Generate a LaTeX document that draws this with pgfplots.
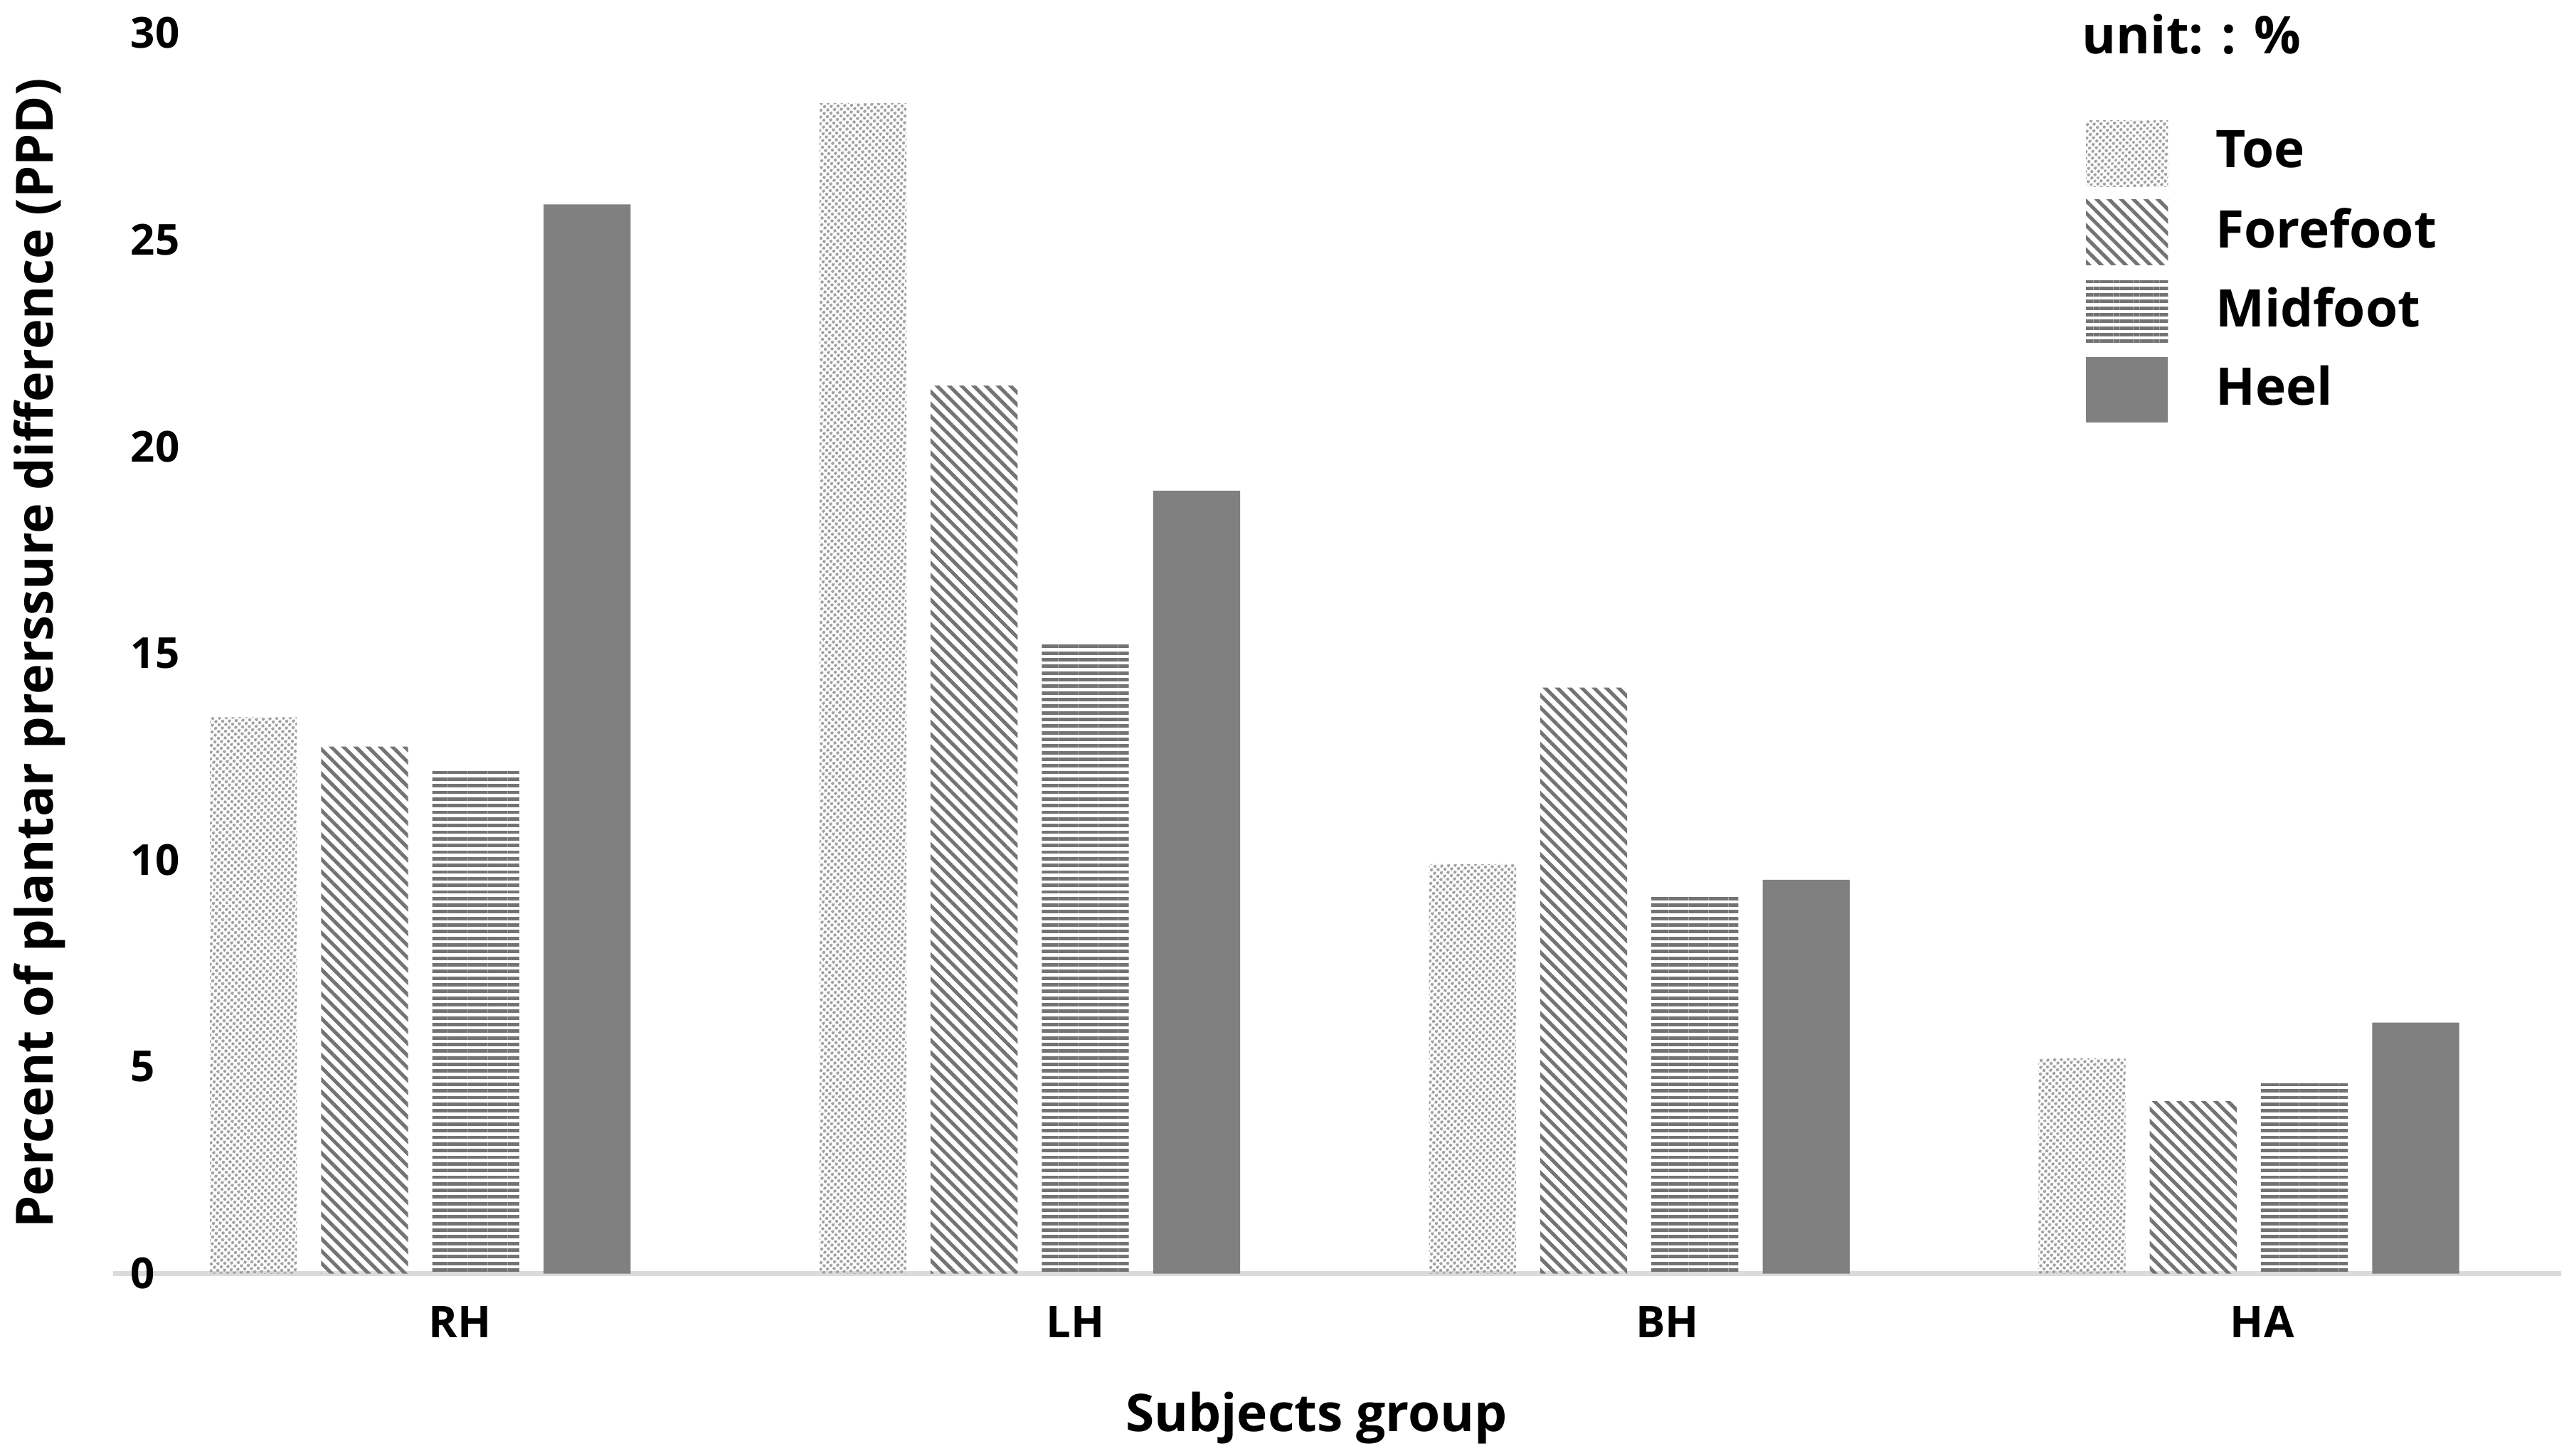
\documentclass[border=0pt]{standalone}
\usepackage{fontspec}
\setmainfont{Open Sans}
\usepackage{pgfplots}
\pgfplotsset{compat=1.18}
\usetikzlibrary{patterns.meta}
\definecolor{barg}{HTML}{808080}
\definecolor{lineg}{HTML}{737373}
\begin{document}
\begin{tikzpicture}
\begin{axis}[
  scale only axis, width=14.91cm, height=7.56cm,
  xmin=-0.5036, xmax=3.512, ymin=0, ymax=30,
  clip=false,
  axis x line*=bottom, axis y line*=left,
  x axis line style={-, draw=black!14, line width=0.9pt},
  y axis line style={draw=none},
  major tick length=0pt,
  /pgf/number format/assume math mode=true,
  xtick={0.065,1.075,2.046,3.022},
  xticklabels={RH,LH,BH,HA},
  ytick={0,5,10,15,20,25,30},
  xticklabel style={anchor=base, yshift=-0.39cm, font=\bfseries\fontsize{7.6}{8}\selectfont},
  yticklabel style={anchor=west, inner sep=0pt, xshift=0.1cm, font=\bfseries\fontsize{7.4}{8}\selectfont},
  xlabel={Subjects group},
  xlabel style={at={(axis description cs:0.4916,-0.127)}, anchor=base, font=\bfseries\fontsize{9}{10}\selectfont},
  ylabel={Percent of plantar prerssure difference (PPD)},
  ylabel style={at={(axis description cs:-0.019,0.5)}, anchor=south, inner sep=0pt, font=\bfseries\fontsize{8.9}{10}\selectfont},
  legend style={at={(0.8055,0.93)}, anchor=north west, draw=none, fill=none, inner sep=0pt,
    row sep=0.08cm, column sep=0.29cm, font=\bfseries\fontsize{9}{10}\selectfont,
    cells={anchor=west}, nodes={inner sep=0pt}},
  legend image code/.code={\path[#1, draw=none] (0cm,-0.2cm) rectangle (0.5cm,0.2cm);},
]
\addplot[ybar, bar width=0.1427, bar shift=-0.2737, draw=none,
  pattern={Dots[distance=0.9pt, radius=0.32pt, angle=45]}, pattern color=gray!75]
  coordinates {(0,13.45) (1,28.3) (2,9.9) (3,5.2)};
\addlegendentry{Toe}
\addplot[ybar, bar width=0.1427, bar shift=-0.0912, draw=none,
  pattern={Lines[angle=-45, distance=1.5pt, line width=0.62pt]}, pattern color=lineg]
  coordinates {(0,12.74) (1,21.47) (2,14.17) (3,4.17)};
\addlegendentry{Forefoot}
\addplot[ybar, bar width=0.1427, bar shift=0.0912, draw=none,
  pattern={Lines[angle=0, distance=1.15pt, line width=0.6pt]}, pattern color=lineg]
  coordinates {(0,12.22) (1,15.28) (2,9.17) (3,4.6)};
\addlegendentry{Midfoot}
\addplot[ybar, bar width=0.1427, bar shift=0.2737, draw=none, fill=barg]
  coordinates {(0,25.85) (1,18.93) (2,9.52) (3,6.07)};
\addlegendentry{Heel}
\node[anchor=base west, inner sep=0pt, font=\bfseries\fontsize{9}{10}\selectfont]
  at (axis description cs:0.804,0.983) {unit: : \%};
\coordinate (O) at (rel axis cs:0,0);
\end{axis}
\pgfresetboundingbox
\path (O) ++(-0.69cm,-1.11cm) rectangle ++(15.68cm,8.87cm);
\end{tikzpicture}
\end{document}
